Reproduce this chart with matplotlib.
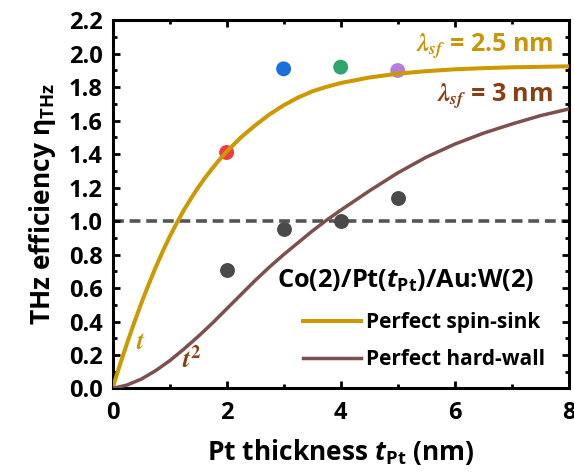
import matplotlib
matplotlib.use("Agg")
import matplotlib.pyplot as plt
from matplotlib.ticker import MultipleLocator, FormatStrFormatter

FONT = 'Open Sans'
plt.rcParams['font.family'] = [FONT, 'DejaVu Sans']
plt.rcParams['font.weight'] = 'bold'
plt.rcParams['axes.labelweight'] = 'bold'
plt.rcParams['mathtext.fontset'] = 'custom'
plt.rcParams['mathtext.rm'] = FONT
plt.rcParams['mathtext.bf'] = FONT + ':bold'
plt.rcParams['mathtext.it'] = FONT + ':bold:italic'

# ---- data ----
t_sink = [0, 0.125, 0.25, 0.375, 0.5, 0.625, 0.75, 0.875, 1.0, 1.125, 1.25,
          1.375, 1.5, 1.625, 1.75, 1.875, 2.0, 2.25, 2.5, 2.75, 3.0, 3.25,
          3.5, 3.75, 4.0, 4.5, 5.0, 5.5, 6.0, 6.5, 7.0, 7.5, 8.0]
spin_sink = [0, 0.136, 0.265, 0.388, 0.505, 0.614, 0.718, 0.815, 0.905,
             0.988, 1.065, 1.135, 1.200, 1.260, 1.315, 1.367, 1.415, 1.500,
             1.572, 1.637, 1.692, 1.738, 1.775, 1.802, 1.825, 1.858, 1.881,
             1.896, 1.907, 1.914, 1.919, 1.922, 1.925]

t_wall = [0, 0.25, 0.5, 0.75, 1.0, 1.25, 1.5, 1.75, 2.0, 2.25, 2.5, 2.75,
          3.0, 3.25, 3.5, 3.75, 4.0, 4.5, 5.0, 5.5, 6.0, 6.5, 7.0, 7.5, 8.0]
hard_wall = [0, 0.02, 0.055, 0.105, 0.165, 0.235, 0.31, 0.39, 0.475, 0.56,
             0.645, 0.725, 0.80, 0.87, 0.94, 1.005, 1.065, 1.18, 1.288, 1.382,
             1.46, 1.525, 1.58, 1.63, 1.67]

color_t = [2, 3, 4, 5]
color_eta = [1.41, 1.91, 1.92, 1.90]
color_cols = ['#EE3D3D', '#1A6FDE', '#2EA66B', '#B47EDD']

gray_t = [2, 3, 4, 5]
gray_eta = [0.707, 0.95, 1.0, 1.14]

ref_level = 1.0

c_sink = '#CC9900'
c_wall = '#7D5050'
c_wall_txt = '#8B3E14'
c_sink_txt = '#C9960A'

fig = plt.figure(figsize=(5.74, 4.72), dpi=100)
ax = fig.add_axes([0.196, 0.177, 0.795, 0.780])

ax.axhline(ref_level, color='#555555', lw=2.6, ls=(0, (3.0, 1.6)), zorder=1)
ax.plot(t_sink, spin_sink, color=c_sink, lw=2.9, label='Perfect spin-sink', zorder=3)
ax.plot(t_wall, hard_wall, color=c_wall, lw=2.5, label='Perfect hard-wall', zorder=3)
ax.scatter(color_t, color_eta, s=115, c=color_cols, zorder=2, linewidths=0)
ax.scatter(gray_t, gray_eta, s=115, c='#4A4A4A', zorder=2, linewidths=0)

ax.set_xlim(0, 8)
ax.set_ylim(0, 2.2)
ax.xaxis.set_major_locator(MultipleLocator(2))
ax.xaxis.set_minor_locator(MultipleLocator(1))
ax.yaxis.set_major_locator(MultipleLocator(0.2))
ax.yaxis.set_minor_locator(MultipleLocator(0.1))
ax.yaxis.set_major_formatter(FormatStrFormatter('%.1f'))
ax.tick_params(which='both', direction='in', top=True, right=True, width=2.0,
               labelsize=17)
ax.tick_params(which='major', length=5)
ax.tick_params(which='minor', length=3)
ax.tick_params(axis='x', which='major', pad=9)
ax.tick_params(axis='y', which='major', pad=7)
for s in ax.spines.values():
    s.set_linewidth(2.2)

ax.set_xlabel(r'Pt thickness $t_{\mathbf{Pt}}$ (nm)', fontsize=19, labelpad=9)
ax.set_ylabel(r'THz efficiency $\mathrm{\eta}_{\mathbf{THz}}$', fontsize=19,
              labelpad=8)

ax.text(7.72, 2.04, r'$\lambda_{sf}$ = 2.5 nm', color=c_sink_txt, fontsize=18,
        ha='right', va='center', math_fontfamily='stix')
ax.text(7.72, 1.74, r'$\lambda_{sf}$ = 3 nm', color=c_wall_txt, fontsize=18,
        ha='right', va='center', math_fontfamily='stix')
ax.text(0.49, 0.28, r'$\mathbfit{t}$', color=c_sink_txt, fontsize=19,
        ha='center', va='center', math_fontfamily='stix')
ax.text(1.38, 0.17, r'$\mathbfit{t}^{\mathbf{2}}$', color=c_wall_txt, fontsize=19,
        ha='center', va='center', math_fontfamily='stix')
ax.text(5.13, 0.64, r'Co(2)/Pt($t_{\mathbf{Pt}}$)/Au:W(2)', fontsize=18.3,
        ha='center', va='center')

ax.legend(loc='center left', bbox_to_anchor=(0.417, 0.1285), frameon=False,
          fontsize=15, handlelength=2.8, handletextpad=0.25, labelspacing=0.78,
          borderpad=0, borderaxespad=0)

fig.savefig('out.png', dpi=100)
